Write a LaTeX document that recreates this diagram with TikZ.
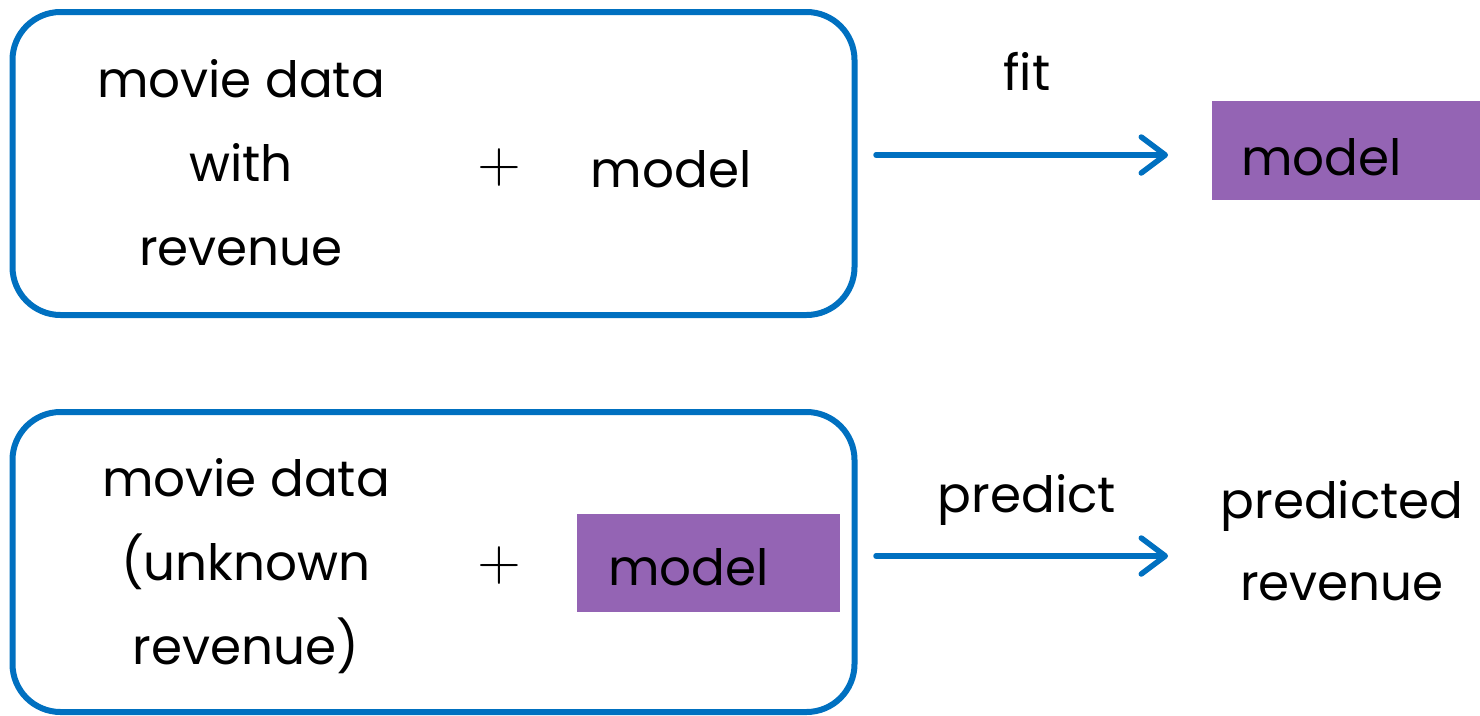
\documentclass[tikz,border=0pt]{standalone}
\usepackage{fontspec}
\setmainfont{Poppins}
\usetikzlibrary{arrows.meta}
\definecolor{sblue}{RGB}{0,112,192}
\definecolor{spurple}{RGB}{148,100,180}
\begin{document}
\begin{tikzpicture}[x=1pt,y=-1pt,
  panel/.style={draw=sblue, line width=6pt, rounded corners=48pt, inner sep=0pt, minimum width=842pt},
  lbl/.style={inner sep=0pt, align=center, font=\fontsize{50}{84}\selectfont},
  plus/.style={inner sep=0pt, font=\sffamily\fontsize{60}{60}\selectfont},
  pbox/.style={fill=spurple, inner sep=0pt},
  flow/.style={draw=sblue, line width=5.5pt, line cap=round, -{Straight Barb[length=24pt, width=36pt, line cap=round, line join=round]}}]
\useasboundingbox (0,0) rectangle (1480,715);
\clip (0,0) rectangle (1480,715);
% top row
\node[panel, minimum height=303pt] (box1) at (433.5,163.5) {};
\node[lbl, anchor=base] (d1) at (241,265) {movie data\\with\\revenue};
\node[plus] (p1) at (499,168) {+};
\node[lbl, anchor=base] (m1) at (671,187) {model};
\coordinate (a1s) at (876,155);
\coordinate (a1e) at (1168,155);
\draw[flow] (a1s) -- (a1e);
\node[lbl, anchor=base] (fit) at (1027,90) {fit};
\node[pbox, minimum width=290pt, minimum height=99pt] (pm1) at (1357,150.5) {};
\node[lbl, anchor=base west] (mt1) at (1241,175) {model};
% bottom row
\node[panel, minimum height=300pt] (box2) at (433.5,562) {};
\node[lbl, anchor=base] (d2) at (246,664) {movie data\\(unknown\\revenue)};
\node[plus] (p2) at (499,566) {+};
\node[pbox, minimum width=263pt, minimum height=98pt] (pm2) at (708.5,563) {};
\node[lbl, anchor=base west] (mt2) at (608,585) {model};
\coordinate (a2s) at (876,556);
\coordinate (a2e) at (1168,556);
\draw[flow] (a2s) -- (a2e);
\node[lbl, anchor=base] (pr) at (1027,512) {predict};
\node[lbl, anchor=base, font=\fontsize{50}{82}\selectfont] (res) at (1342,600) {predicted\\revenue};
\end{tikzpicture}
\end{document}
